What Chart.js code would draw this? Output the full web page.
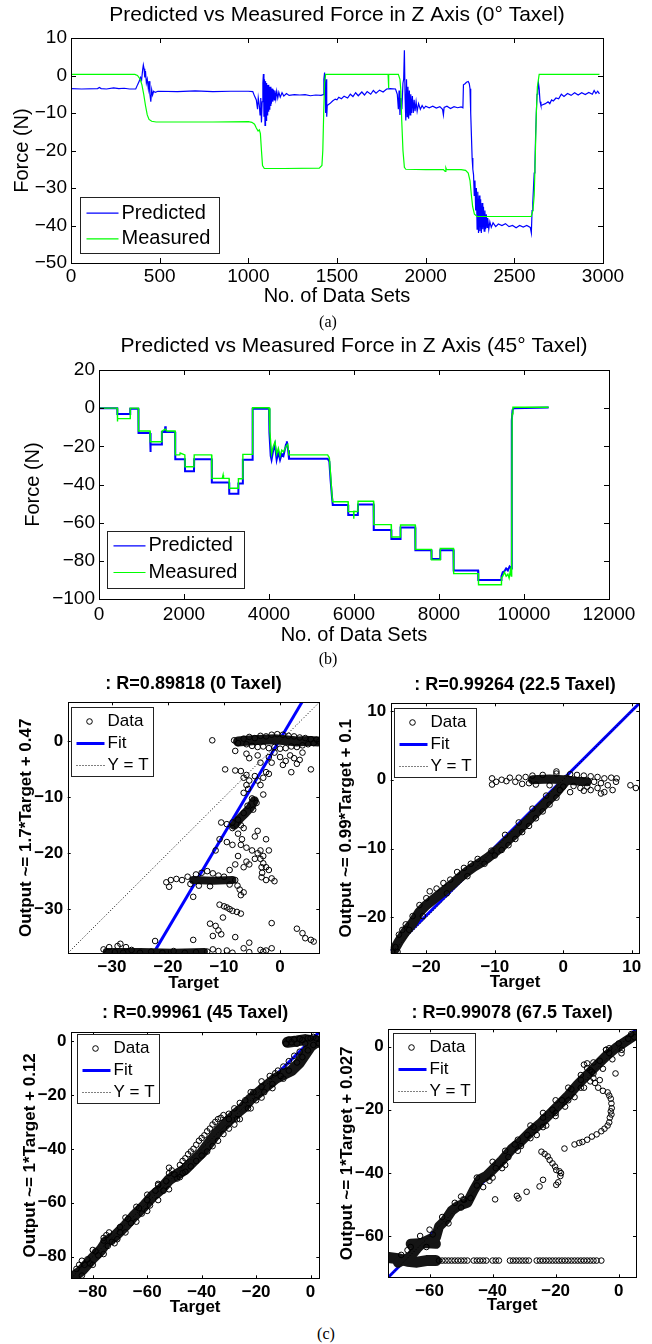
<!DOCTYPE html>
<html><head><meta charset="utf-8">
<script src="https://cdn.jsdelivr.net/npm/chart.js@4.4.1/dist/chart.umd.min.js"></script>
<style>
html,body{margin:0;padding:0;background:#fff;}
body{width:652px;height:1344px;position:relative;overflow:hidden;}
canvas{position:absolute;}
.cap{position:absolute;font-family:"Liberation Serif","Times New Roman",serif;font-size:16px;color:#000;transform:translate(-50%,-50%);white-space:nowrap;}
</style></head><body>
<canvas id="ca"></canvas><canvas id="cb"></canvas>
<canvas id="c1"></canvas><canvas id="c2"></canvas><canvas id="c3"></canvas><canvas id="c4"></canvas>
<div class="cap" style="left:328px;top:322px">(a)</div>
<div class="cap" style="left:328px;top:659px">(b)</div>
<div class="cap" style="left:326px;top:1334px">(c)</div>
<script>
// ---------------- DATA ----------------
// (a) 0° taxel: [No. of data set, Force (N)]
const aPredicted = [[0,-3.5],[60,-3.6],[150,-3.5],[160,-3.2],[170,-3.5],[200,-3.6],[240,-3.3],[270,-3.5],[300,-3.4],[330,-3.6],[365,-3.6],
[375,-2.5],[385,-1.5],[392,-0.5],[398,-1.2],[404,1.5],[408,2.8],[412,1.8],[416,-0.5],[420,1.2],[425,-2],[430,-1],[436,-3.5],[440,-1.5],[445,-5],[450,-7],[455,-3.8],[460,-5.2],[466,-4.2],[475,-4.5],[490,-4.2],
[600,-4.3],[700,-4.1],[800,-4.3],[900,-4.2],[1000,-4.2],[1025,-4.3],
[1035,-5.5],[1045,-6.5],[1052,-9],[1056,-6],[1062,-8],[1066,-10.5],[1070,-6],[1074,-12.5],[1078,-7],[1082,-2],[1085,0.4],[1088,-11],[1091,-1],[1094,-13.3],[1097,-1.5],[1100,-12],[1103,-2],[1106,-10.5],[1109,-2.5],[1112,-9.5],[1115,-2.5],[1118,-9],[1121,-3],[1124,-8],[1127,-3],[1130,-7.5],[1134,-3.5],[1138,-7],[1142,-3.8],[1146,-6.5],[1150,-4],[1155,-6.2],[1160,-4.2],[1166,-6],[1172,-4.5],[1180,-5.8],[1190,-4.6],[1200,-5.5],[1215,-4.8],[1230,-5.3],[1260,-5.1],[1290,-5.2],[1320,-5.1],[1350,-5.4],[1380,-5.2],[1410,-5.3],[1422,-5.1],
[1426,-1],[1430,0.8],[1433,-3],[1436,-10],[1439,-1],[1442,-11],[1445,-8],[1450,-7.8],[1460,-7.5],[1475,-6.8],[1490,-6.3],[1500,-6.5],[1510,-5.8],[1525,-6.2],[1540,-5.5],[1560,-6],[1575,-5],[1590,-5.6],[1605,-4.6],[1620,-5.4],[1640,-4.4],[1655,-5.2],[1670,-4.3],[1690,-5],[1705,-4],[1720,-4.7],[1740,-3.9],[1760,-4.4],[1780,-3.6],[1800,-3.5],[1830,-3.6],
[1840,-5],[1846,-9],[1850,-4],[1855,-10.5],[1860,-6],[1866,-9],[1872,-2],[1876,-1],[1880,6.7],[1884,-6],[1888,-12],[1892,-1],[1896,-11],[1900,-3],[1904,-11.5],[1908,-4],[1912,-10.5],[1916,-5],[1920,-10],[1925,-5.5],[1930,-10],[1935,-6.5],[1940,-9.5],[1946,-7],[1952,-9.5],[1960,-7.5],[1970,-9],[1980,-8],[1990,-8.8],[2000,-8.2],[2020,-8.6],[2040,-8.2],[2060,-8.7],[2080,-8.3],[2095,-9],[2100,-10.5],[2104,-8.5],[2120,-8.2],[2140,-8.8],[2160,-8.3],[2180,-8.6],[2200,-8.4],[2210,-8.6],
[2213,-2.5],[2222,-2.2],[2230,-1.8],[2240,-1.6],[2246,-2.2],[2250,-3.5],[2254,-10],[2258,-16],[2262,-22],[2266,-25],[2270,-26.5],[2274,-32],[2278,-28],[2282,-36],[2286,-30],[2290,-41],[2294,-31],[2298,-42],[2302,-32],[2306,-41.5],[2310,-33],[2314,-42],[2318,-34],[2322,-41],[2326,-35],[2330,-41.5],[2334,-36],[2338,-41],[2342,-37],[2346,-40.5],[2350,-38],[2356,-41],[2362,-39],[2370,-40.5],[2380,-39.3],[2395,-40.3],[2410,-39.6],[2430,-40],[2450,-39.5],[2470,-40.3],[2490,-40],[2510,-40.6],[2530,-40],[2550,-40.4],[2570,-40],[2590,-40.5],[2596,-42],
[2600,-36],[2604,-34],[2608,-30],[2612,-26],[2616,-24],[2620,-16],[2624,-10],[2628,-5],[2632,-4],[2636,-2],[2640,-3.5],[2645,-7],[2650,-8],[2660,-7.8],[2675,-7.5],[2690,-7],[2700,-7.5],[2710,-6.5],[2720,-6.8],[2735,-6],[2750,-6.2],[2765,-5],[2780,-5.6],[2800,-4.8],[2820,-5.3],[2840,-4.6],[2860,-5.2],[2880,-4.6],[2900,-5.1],[2920,-4.5],[2940,-5],[2950,-4],[2960,-4.8],[2970,-4.2],[2980,-4.9]];
const aMeasured = [[0,0.3],[360,0.3],[375,0],[390,-1],[400,-2.5],[410,-5],[420,-8],[430,-10.5],[440,-11.7],[455,-12.2],[480,-12.4],[600,-12.4],[800,-12.4],[1000,-12.3],[1020,-12.5],[1035,-13],[1045,-14],[1055,-14.8],[1062,-14.5],[1068,-15.5],[1074,-20],[1080,-24],[1090,-24.8],[1200,-24.8],[1400,-24.7],[1415,-24],[1420,-20],[1425,-10],[1430,-2],[1436,0.3],[1500,0.3],[1788,0.3],[1790,-3.4],[1793,0.3],[1846,0.3],[1855,-1],[1860,-4],[1865,-12],[1872,-20],[1880,-24.5],[1888,-25],[2000,-25.1],[2100,-25.1],[2110,-25.6],[2114,-24.6],[2118,-25.1],[2200,-25.1],[2225,-25.3],[2240,-26],[2250,-28],[2258,-32],[2265,-35],[2275,-37],[2290,-37.6],[2400,-37.6],[2500,-37.6],[2595,-37.6],[2605,-36],[2612,-32],[2618,-22],[2624,-10],[2630,-3],[2640,0.3],[2700,0.3],[2980,0.3]];
const aXTicks = [0,500,1000,1500,2000,2500,3000];
const aYTicks = [-50,-40,-30,-20,-10,0,10];

// (b) 45° taxel
const bPredicted = [[0,0],[430,0],[432,-3],[730,-3],[735,-0.3],[925,-0.3],[930,-13],[1200,-13],[1205,-19],[1215,-23],[1220,-19],[1475,-19],[1480,-12.5],[1550,-12.5],[1560,-9.5],[1570,-12.5],[1790,-12.5],[1795,-26.8],[2020,-26.8],[2025,-33],[2235,-33],[2240,-26.8],[2650,-26.8],[2655,-39],[3060,-39],[3065,-44.8],[3275,-44.8],[3280,-39.5],[3380,-39.5],[3385,-27],[3610,-27],[3615,-0.3],[4000,-0.3],[4010,-13],[4040,-25],[4060,-27],[4100,-22],[4140,-19],[4180,-27],[4220,-23],[4260,-27],[4300,-24],[4340,-25],[4400,-19],[4420,-17.4],[4450,-22],[4470,-26.5],[5380,-26.5],[5420,-28],[5450,-38],[5480,-46],[5500,-50.7],[5860,-50.7],[5865,-56],[6090,-56],[6095,-50.5],[6460,-50.5],[6465,-63.8],[6875,-63.8],[6880,-68.6],[7090,-68.6],[7095,-62.5],[7440,-62.5],[7445,-74.5],[7820,-74.5],[7825,-79],[8025,-79],[8030,-74.5],[8340,-74.5],[8345,-85],[8920,-85],[8925,-90],[9460,-90],[9470,-88],[9500,-86],[9540,-85.5],[9580,-84],[9620,-85],[9660,-83],[9700,-84],[9710,-70],[9715,-6.5],[9730,-1],[9760,0],[10580,0.3]];
const bMeasured = [[0,0],[430,0],[432,-7],[440,-5.5],[730,-5.5],[735,0],[925,0],[930,-12],[1200,-12],[1205,-17.6],[1475,-17.6],[1480,-12],[1520,-11.5],[1560,-11],[1600,-12],[1790,-12],[1795,-24.5],[1900,-24.5],[1910,-23.5],[2020,-24.5],[2025,-30.7],[2235,-30.7],[2240,-24.5],[2650,-24.5],[2655,-36.8],[2900,-36.8],[2920,-35],[2930,-36.8],[3060,-36.8],[3065,-42],[3275,-42],[3280,-37],[3380,-37],[3385,-24.2],[3610,-24.2],[3615,0.2],[4000,0.2],[4020,-12],[4060,-24],[4100,-20],[4140,-17.6],[4180,-24],[4220,-21],[4260,-25],[4300,-22],[4340,-23],[4400,-20],[4440,-19],[4470,-24.5],[5380,-24.5],[5420,-26],[5450,-35],[5480,-45],[5500,-49],[5860,-49],[5865,-54.2],[5990,-54.2],[5995,-58],[6000,-54],[6090,-54.2],[6095,-48.8],[6460,-48.8],[6465,-61],[6875,-61],[6880,-67.5],[7090,-67.5],[7095,-61.2],[7440,-61.2],[7445,-74],[7820,-74],[7825,-79.5],[8025,-79.5],[8030,-73.5],[8340,-73.5],[8345,-86.7],[8925,-86.7],[8930,-92.5],[9460,-92.5],[9470,-89],[9500,-88],[9540,-86],[9580,-88],[9620,-87],[9650,-89],[9680,-85],[9700,-88],[9710,-80],[9720,-3],[9740,0.5],[10580,0.5]];
const bXTicks = [0,2000,4000,6000,8000,10000,12000];
const bYTicks = [-100,-80,-60,-40,-20,0,20];

// (c) regressions: [Target, Output]
const tlData = [[-12.1,0.2],[-8.2,0.2],[-7.5,-0.3],[-6.5,0.5],[-6,-0.5],[-5.5,0.8],[-5,-0.8],[-4.5,0.6],[-4,-1],[-3.5,1],[-3,-0.9],[-2.5,0.9],[-2,-1.2],[-1.5,1.2],[-1,-1],[-0.5,1.3],[0,-1.3],[0.5,1.2],[1,-1.2],[1.5,1],[2,-0.9],[2.5,0.9],[3,-1],[3.5,0.7],[4,-0.7],[4.5,0.6],[5,-0.5],[5.5,0.4],[6,-0.3],[6.5,0.3],[7,0],
[-8,-1.7],[-6,-2.2],[-5.5,-3],[-4,-2.5],[-3.5,-3.8],[-2,-2.8],[-1.5,-3.8],[-1,-2],[0,-2.8],[0.5,-4.2],[1,-3.5],[1.8,-2.5],[2.5,-3],[3,-4],[3.5,-3.3],[4,-2],[5.5,-5],[2,-5.5],
[-9.8,-5],[-8,-5.2],[-7,-5.3],[-6.5,-6.5],[-6,-6],[-5.5,-7],[-6,-7.8],[-5.7,-8.5],[-6.5,-9.2],[-4,-7],[-3.5,-7.8],[-3,-6.5],[-2.5,-5.5],[-2,-5.8],[-4.5,-6.2],[-3,-9.5],
[-5,-10.2],[-4.2,-11],[-4.8,-12.2],[-5.8,-11.5],[-6.5,-12.8],[-7.5,-14],[-8.5,-14.5],[-9.5,-14.8],[-8.5,-15.5],[-7,-15],[-6.5,-15.5],[-7.5,-16.5],[-6.8,-17.5],[-10.8,-17.5],[-11.5,-19.5],[-10.5,-14.5],
[-9.5,-18],[-8.5,-18.5],[-7,-18.5],[-6,-19],[-5,-19.5],[-4,-20],[-3.5,-21],[-3,-21.8],[-2.5,-22.5],[-2,-23],[-3.5,-19.5],[-3,-20.5],[-4.5,-21],[-5.5,-22],[-6.5,-22.5],[-6,-21.5],[-7.5,-20.5],[-8,-22],[-9,-23],[-3.3,-22.5],[-3.2,-23.5],[-3.3,-24.3],[-2.5,-24.8],[-1.5,-24.5],[-1,-25],[-4,-16],[-4.5,-17],[-2.5,-17.5],[-2,-19.5],
[-20.3,-25.2],[-19.8,-26],[-19.5,-24.8],[-18.5,-24.6],[-17.5,-24.8],[-16.5,-24.2],[-16,-25.5],[-15,-23.8],[-14,-23.5],[-13,-23.2],[-12,-23.6],[-11,-24],[-10,-24.2],[-9,-25.6],[-8,-24.8],[-7.6,-25.8],[-7.2,-26.5],[-6.5,-27],[-7,-27.5],[-14.5,-25.8],[-12.5,-25.9],[-15.5,-27.8],
[-10.8,-29.2],[-10,-29.5],[-9.5,-29.7],[-9,-30],[-8.5,-30.3],[-7.7,-30.5],[-7,-30.8],[-10.2,-31.5],[-12.5,-32.6],[-11.5,-33],[-11,-33.8],[-10.5,-34.5],[-12,-34.8],[-8,-35],[-5.5,-36],[-15.5,-35.5],[-22.3,-35.7],[-28.5,-36.2],[-29,-36.6],[-27.5,-36.8],[-1.5,-32.5],[3,-33.5],[4,-34.3],[4.5,-35.2],[5.5,-35.5],[6,-35.8],[-3.5,-37.3],[-2.5,-37.4],[-1.5,-37],
[-31.5,-37.2],[-30.5,-36.8],[-29.5,-37.7],[-28,-37.8],[-26.5,-37.3],[-25,-37.8],[-23,-37.6],[-21,-37.8],[-19,-37.5],[-17,-37.8],[-15,-37.7],[-13,-37.6],[-12,-37.2],[-11,-37.5],[-9.5,-37.4],[-8.5,-37.8],[-6.5,-37],[-5.5,-37.7],[-3,-37.6]];
const tlDenseTop = [[-7.5,0],[-5,0.2],[-3,0.3],[-1,0.4],[1,0.2],[3,0],[5,0.1],[6.8,0]];
const tlDenseMid = [[-4.6,-10.6],[-5.3,-11.8],[-6.2,-12.8],[-7.2,-13.8],[-8.2,-15]];
const tlDense25 = [[-15.5,-24.8],[-12,-24.9],[-8.5,-24.8]];
const tlDenseBot = [[-31,-37.6],[-25,-37.6],[-19,-37.7],[-13.5,-37.6]];
const tlFit = [[-22.6,-37.9],[3.9,7]];
const tlYT = [[-37.9,-37.9],[7,7]];
const tlTicks = [-30,-20,-10,0];

const trData = [[-10.4,-0.7],[-10.4,0.2],[-9.8,-0.3],[-9,0],[-8.3,-0.2],[-7.8,0.3],[-7,-0.3],[-6.5,0.3],[-6,-0.6],[-5.5,0.4],[-5,-0.5],[-4.5,0.6],[-4,-0.7],[-3,0.7],[-2,-0.8],[-1,0.9],[-1,1.2],[0,-1],[1,0.8],[1.5,-0.9],[2,0.7],[2.5,-1.2],[3,0.6],[3.5,-1],[4,0.5],[4,-1.5],[4.5,-0.3],[5,0.4],[5,-1.2],[5.5,-0.5],[6,0.2],[6,-1.8],[6.5,-0.8],[7,0.3],[7.2,-1.5],[7.8,0.2],[7.7,-0.3],[5.5,-2],[1,-1.8],[9.8,-0.8],[10.6,-1.2],[3,-1.6],
[-24.5,-24.3],[-24,-22.5],[-23.5,-21.8],[-23,-21],[-22,-19.8],[-21,-18.2],[-20,-17.2],[-19.5,-16.2],[-18.5,-15.8],[-17.5,-15],[-16.5,-14.5],[-15.5,-13.4],[-14.5,-12.8],[-13.5,-12.2],[-12.5,-11.5],[-11.5,-12.2],[-10.5,-10.3],[-10,-11],[-9,-10.2],[-8,-9.5],[-7,-8.6],[-6,-7.6],[-5,-6.7],[-4,-5.6],[-3,-4.6],[-2,-3.6],[-1,-2.6],[-0.5,-1.5],[-8.5,-8],[-6.5,-6.2],[-4.5,-4.2],[-2.5,-2.3],[-20.5,-19.8],[-22.5,-21.8],[-17,-16.5],[-14,-14],[-25,-25],[-24.2,-25]];
const trDenseMain = [[-24.8,-24.9],[-24,-23.5],[-23,-22],[-22,-20.8],[-21,-19.2],[-20,-18.2],[-19,-17.4],[-18,-16.6],[-17,-15.8],[-16,-15],[-15,-14.1],[-14,-13.3],[-13,-12.6],[-12,-12],[-11,-11.3],[-10,-10.5],[-9,-9.7],[-8,-8.7],[-7,-7.8],[-6,-6.8],[-5,-5.8],[-4,-4.8],[-3,-3.8],[-2,-2.8],[-1,-1.8],[0,-0.6],[0.5,0]];
const trDenseTop = [[-4.5,0],[-2,0.1],[0,0],[2,-0.2],[3.5,-0.3]];
const trFit = [[-25.2,-24.85],[11.1,11.09]];
const trYT = [[-25.2,-25.2],[11.1,11.1]];
const trTicks = [-20,-10,0,10];

const blData = [[-48,-46],[-47,-44.5],[-46,-43.5],[-45,-42],[-44,-41],[-43,-40],[-42,-38.5],[-41,-37],[-40,-36],[-39,-35],[-38,-33.5],[-37,-32.5],[-36,-31],[-35,-30],[-34,-29],[-33,-28.5],[-32,-27.5],
[-46,-48.5],[-44,-46.5],[-42,-44.5],[-40,-42.5],[-38,-41],[-36,-39],[-34,-37],[-32,-34.5],[-30,-32.5],
[-75,-72],[-74,-71],[-73,-74.5],[-72,-75],[-71,-73.5],[-70,-71],[-76,-74],[-74.5,-76],
[-50,-49.5],[-49,-51],[-48,-50.5],[-47,-49],[-51,-48],[-52,-47],[-56,-53],
[-86,-84.5],[-85,-83],[-83,-83],[-82,-81],[-81,-82.5],[-79,-78],[-78,-79.5],[-70,-69],[-67,-66],[-66,-67.5],[-63,-62],[-62,-64],[-60,-59],[-59,-61],[-57,-55.5],[-54,-55.5],[-53,-52],[-30,-29],[-28,-25],[-27,-29],[-24,-22],[-23,-25],[-21,-19],[-20,-22],[-18,-17],[-17,-19],[-15,-13],[-14,-16],[-12,-11],[-10,-9.5],[-8,-7.5],[-6,-5.5],[-4,-4],[-11,-13],[-8,-11],[-5,-8],[-3,-6],[-2,-1],[-1,-3.5],[0,1],[1,-1.5],[2,1],[3,-0.8],[-9,-1],[-8,0.5],[-7,-0.5],[-6,0.5],[-5,-1],[-4,0.8],[-3,0.3],[-1,1],[1,1.5],[-13,-12],
[-84,-81.5],[-80,-77.5],[-76,-73],[-68,-65.5],[-64,-61.5],[-60,-57],[-56,-53.5],[-52,-49],[-30,-27],[-26,-23],[-22,-19],[-18,-15],[-84,-87],[-80,-83],[-76,-79],[-68,-71],[-64,-67],[-60,-63],[-56,-59],[-52,-55],[-28,-31],[-26,-29],[-22,-25],[-18,-21],[-14,-17.5],[-10,-14]];
const blDenseMain = [[-86.5,-87],[-84,-85],[-80,-80.5],[-77,-77.5],[-75,-74.5],[-72,-72.5],[-68,-68.5],[-65,-65],[-61,-61],[-58,-57.5],[-55,-55],[-52,-51.5],[-49,-49.5],[-46,-47.5],[-43,-44.5],[-40,-41.5],[-37,-37.5],[-34,-33.5],[-31,-30.5],[-28,-27.5],[-25,-25],[-22,-21.5],[-19,-19],[-16,-16.5],[-13,-14],[-10,-12.5],[-7,-11],[-4,-8],[-2,-5],[0,-2],[2,-0.5],[3,0]];
const blDenseTop = [[-8.5,-0.5],[-5,0],[-2,0.5],[1,0],[3,-0.5]];
const blFit = [[-88,-87.88],[3.2,3.32]];
const blYT = [[-88,-88],[3.2,3.2]];
const blTicks = [-80,-60,-40,-20,0];

const brData = [[-69,-66],[-67,-64.5],[-63,-60],[-61,-63.5],[-59,-59.5],[-56,-54],[-54,-56],[-52,-49.5],[-50,-51],[-49,-48.5],[-47,-48],[-45,-44],[-43,-44.5],[-41,-42.5],[-39,-38.5],[-37,-38.5],[-35,-35],[-33,-31],[-31,-31.5],[-29,-28],[-27,-25.5],[-26,-28],[-24,-22.5],[-23,-25],[-21,-20],[-20,-22],[-18,-17],[-17,-19],[-15,-13.5],[-14,-16],[-12,-10.5],[-11,-13],[-9,-7.5],[-8,-10],[-6,-4.5],[-5,-7],[-3,-2],[-2,-4],[0,1],[1,-1],[3,2.5],[4,4],[5,3],[-1,-8.5],[-11,-5.7],[-10,-6.8],[0.9,-2.1],[-4,-1],[-3,-0.5],
[-66,-63.5],[-60,-58],[-50,-47.5],[-45,-41.5],[-40,-36.5],[-36,-33],[-32,-29.5],[-28,-25],[-24,-21],[-20,-17],[-16,-13],[-12,-9],[-8,-5],[-4,-1],[-40,-41.5],[-36,-37.5],[-32,-33],[-28,-29],[-24,-25.5],[-20,-21],[-16,-17],[-12,-13],[-8,-8.5],
[-10,-5.3],[-8.5,-8],[-9,-11],[-7.5,-11.5],[-6,-10.6],[-6.5,-13],[-5,-14],[-3.5,-14.5],[-3,-15.5],[-2.5,-16.5],[-2.3,-18],[-2.2,-19.5],[-2.5,-20.5],[-2.3,-21.5],[-2.8,-22.5],[-3,-24],[-3.5,-25],[-4.5,-26],[-5.5,-26.8],[-7,-27.8],[-8.5,-28.5],[-10,-29.5],[-11.5,-30.2],[-12.5,-30.5],[-14,-31],[-17.2,-32.3],
[-24.5,-33.3],[-23.5,-34],[-22.5,-34.8],[-21.9,-35.9],[-21,-37],[-20.2,-38],[-19.8,-39.1],[-18.8,-39.5],[-18.3,-40.1],[-18.5,-41],[-19.2,-43],[-19.8,-43.8],[-24,-42.2],[-25.1,-44.3],[-29.2,-46],[-31.8,-48.1],[-32.3,-47.3],[-39.2,-48.4],[-49.3,-48.4],
[-57,-67.8],[-56,-67.8],[-55,-67.8],[-54,-67.8],[-53,-67.8],[-52,-67.8],[-51,-67.8],[-50,-67.8],[-49,-67.8],[-48,-67.8],[-46,-67.8],[-45,-67.8],[-44,-67.8],[-43,-67.8],[-42,-67.8],[-40,-67.8],[-39,-67.8],[-38,-67.8],[-34.5,-67.8],[-33.5,-67.8],[-32.5,-67.8],[-31.5,-67.8],[-30.5,-67.8],[-29.5,-67.8],[-28.5,-67.8],[-26,-67.8],[-25,-67.8],[-24,-67.8],[-23,-67.8],[-22,-67.8],[-21,-67.8],[-20,-67.8],[-19,-67.8],[-18,-67.8],[-17,-67.8],[-16,-67.8],[-15,-67.8],[-14,-67.8],[-13,-67.8],[-12,-67.8],[-11,-67.8],[-10,-67.8],[-9,-67.8],[-8,-67.8],[-7,-67.8],[-5.5,-67.8]];
const brDenseMain = [[-70,-68.5],[-68,-67.5],[-66,-66.5],[-64,-64],[-62,-62],[-60,-61],[-58,-60.5],[-57,-57],[-55,-55],[-53,-52],[-51,-50.5],[-48,-49.5],[-46,-45.5],[-44,-42],[-42,-41],[-40,-39],[-37,-36],[-34,-32.5],[-31,-30],[-28,-27],[-25,-24.5],[-22,-21.5],[-19,-18.5],[-16,-15.5],[-13,-12],[-10,-9],[-7,-6],[-4,-3],[-1,-0.5],[2,1.5],[5,3.5]];
const brDenseBot = [[-73,-66.8],[-70,-67.2],[-67,-68],[-64,-68.3],[-61,-67.8],[-58,-67.8]];
const brDenseLedge = [[-66,-62.5],[-62,-62.2],[-58,-62.5]];
const brFit = [[-73.1,-73.07],[5.5,5.53]];
const brYT = [[-73.1,-73.1],[5.5,5.5]];
const brTicks = [-60,-40,-20,0];

// ---------------- RENDERING ----------------
const FONT = '"Liberation Sans", Arial, Helvetica, sans-serif';
Chart.defaults.font.family = FONT;
const xy = arr => arr.map(p => ({x: p[0], y: p[1]}));

const framePlugin = {
  id: 'frame',
  afterDatasetsDraw(chart, args, o) {
    const {ctx, chartArea: a} = chart;
    const r = v => Math.round(v) + 0.5;
    ctx.save();
    ctx.strokeStyle = '#000'; ctx.lineWidth = 1;
    ctx.beginPath();
    chart.scales.x.ticks.forEach(t => {
      const p = r(chart.scales.x.getPixelForValue(t.value));
      ctx.moveTo(p, a.bottom); ctx.lineTo(p, a.bottom - o.tick);
      ctx.moveTo(p, a.top); ctx.lineTo(p, a.top + o.tick);
    });
    chart.scales.y.ticks.forEach(t => {
      const p = r(chart.scales.y.getPixelForValue(t.value));
      ctx.moveTo(a.left, p); ctx.lineTo(a.left + o.tick, p);
      ctx.moveTo(a.right, p); ctx.lineTo(a.right - o.tick, p);
    });
    ctx.stroke();
    ctx.strokeRect(r(a.left), r(a.top), Math.round(a.right) - Math.round(a.left), Math.round(a.bottom) - Math.round(a.top));
    ctx.restore();
  }
};
const legendPlugin = {
  id: 'boxLegend',
  afterDraw(chart, args, o) {
    if (!o || !o.items) return;
    const {ctx, chartArea: a} = chart;
    const x0 = Math.round(a.left + o.dx) + 0.5, y0 = Math.round(a.top + o.dy) + 0.5;
    ctx.save();
    ctx.fillStyle = '#fff'; ctx.fillRect(x0, y0, o.w, o.h);
    ctx.strokeStyle = '#222'; ctx.lineWidth = 1; ctx.strokeRect(x0, y0, Math.round(o.w), Math.round(o.h));
    ctx.font = o.font; ctx.textBaseline = 'middle'; ctx.textAlign = 'left';
    o.items.forEach((it, i) => {
      const ds = chart.data.datasets[it];
      const y = y0 + o.rows[i];
      if (ds.showLine) {
        ctx.beginPath(); ctx.setLineDash(ds.borderDash || []);
        ctx.strokeStyle = ds.borderColor; ctx.lineWidth = o.lw || ds.borderWidth;
        ctx.moveTo(x0 + o.l0, y); ctx.lineTo(x0 + o.l1, y); ctx.stroke(); ctx.setLineDash([]);
      } else {
        ctx.beginPath(); ctx.arc(x0 + o.mark, y, ds.pointRadius, 0, 2 * Math.PI);
        ctx.strokeStyle = ds.pointBorderColor; ctx.lineWidth = ds.pointBorderWidth; ctx.stroke();
      }
      ctx.fillStyle = '#000'; ctx.fillText(ds.label, x0 + o.tx, y);
    });
    ctx.restore();
  }
};

function mk(id, s) {
  const cv = document.getElementById(id);
  cv.width = s.cw; cv.height = s.ch;
  Object.assign(cv.style, {left: s.cx + 'px', top: s.cy + 'px', width: s.cw + 'px', height: s.ch + 'px'});
  const tLH = s.titleFont.size * 1.2, aLH = s.axisFont.size * 1.2;
  const padTop = s.titleCy - s.cy - tLH / 2;
  const padBot = s.T - s.cy - padTop - tLH;
  const yW = s.L - s.cx, xH = s.cy + s.ch - s.B;
  const zero = sc => { sc.paddingLeft = sc.paddingRight = sc.paddingTop = sc.paddingBottom = 0; };
  const cb = v => String(v).replace('-', '\u2212');
  const common = {type: 'linear', grid: {display: false, drawTicks: false}, border: {display: false}};
  return new Chart(cv, {
    type: 'scatter',
    data: {datasets: s.datasets},
    options: {
      responsive: false, animation: false, devicePixelRatio: 1,
      layout: {padding: {left: 0, top: 0, bottom: 0, right: s.cx + s.cw - s.R}, autoPadding: false},
      elements: {line: {tension: 0}},
      plugins: {
        legend: {display: false}, tooltip: {enabled: false},
        title: {display: true, text: s.title, color: '#000', fullSize: false, font: Object.assign({lineHeight: 1.2}, s.titleFont), padding: {top: padTop, bottom: padBot}},
        frame: {tick: s.tickLen},
        boxLegend: s.legend
      },
      scales: {
        x: Object.assign({}, common, {position: 'bottom', min: s.xMin, max: s.xMax,
          ticks: {color: '#000', font: s.tickFont, padding: s.xTickPad, maxRotation: 0, autoSkip: false, callback: cb},
          afterBuildTicks: sc => { sc.ticks = s.xTicks.map(v => ({value: v})); },
          afterFit: sc => { sc.height = xH; zero(sc); },
          title: {display: true, text: s.xTitle, color: '#000', font: Object.assign({lineHeight: 1.2}, s.axisFont), padding: {top: 0, bottom: s.cy + s.ch - s.xTitleCy - aLH / 2}}}),
        y: Object.assign({}, common, {position: 'left', min: s.yMin, max: s.yMax,
          ticks: {color: '#000', font: s.tickFont, padding: s.yTickPad, autoSkip: false, callback: cb},
          afterBuildTicks: sc => { sc.ticks = s.yTicks.map(v => ({value: v})); },
          afterFit: sc => { sc.width = yW; zero(sc); },
          title: {display: true, text: s.yTitle, color: '#000', font: Object.assign({lineHeight: 1.2}, s.axisFont), padding: {top: s.yTitleCx - s.cx - aLH / 2, bottom: 0}}})
      }
    },
    plugins: [framePlugin, legendPlugin]
  });
}

const lineDs = (label, arr, color, w, order) => ({label, data: xy(arr), showLine: true, borderColor: color, backgroundColor: color, borderWidth: w, pointRadius: 0, order});
const bigTitle = {size: 21, weight: 'normal'};
const bigFont = {size: 20, weight: 'normal'};
const tsFont = {size: 19, weight: 'normal'};

mk('ca', {cx: 0, cy: 0, cw: 652, ch: 312, L: 71, T: 38, R: 603, B: 263,
  title: 'Predicted vs Measured Force in Z Axis (0° Taxel)', titleCy: 15, titleFont: bigTitle,
  xTitle: 'No. of Data Sets', xTitleCy: 296, yTitle: 'Force (N)', yTitleCx: 22, axisFont: bigFont,
  tickFont: tsFont, xTickPad: 2.5, yTickPad: 4, tickLen: 5,
  xMin: 0, xMax: 3000, yMin: -50, yMax: 10, xTicks: aXTicks, yTicks: aYTicks,
  datasets: [lineDs('Predicted', aPredicted, '#0000ff', 1.2, 1), lineDs('Measured', aMeasured, '#00ff00', 1.2, 0)],
  legend: {items: [0, 1], dx: 9, dy: 159, w: 139, h: 56, rows: [15.7, 41.3], l0: 6, l1: 38, tx: 41, lw: 1.2, font: '20px ' + FONT}
});
mk('cb', {cx: 0, cy: 328, cw: 652, ch: 322, L: 99, T: 370, R: 609, B: 599,
  title: 'Predicted vs Measured Force in Z Axis (45° Taxel)', titleCy: 346.5, titleFont: bigTitle,
  xTitle: 'No. of Data Sets', xTitleCy: 635, yTitle: 'Force (N)', yTitleCx: 33, axisFont: bigFont,
  tickFont: tsFont, xTickPad: 4.5, yTickPad: 4, tickLen: 5,
  xMin: 0, xMax: 12000, yMin: -100, yMax: 20, xTicks: bXTicks, yTicks: bYTicks,
  datasets: [lineDs('Predicted', bPredicted, '#0000ff', 2, 1), lineDs('Measured', bMeasured, '#00ff00', 1.4, 0)],
  legend: {items: [0, 1], dx: 8, dy: 161, w: 137, h: 57, rows: [14.3, 41], l0: 6, l1: 38, tx: 41, lw: 1.2, font: '20px ' + FONT}
});

const sTitle = {size: 18, weight: 'bold'};
const sAxis = {size: 17, weight: 'bold'};
const sTick = {size: 17, weight: 'bold'};
function regDatasets(points, dense, fit, yt) {
  const ds = [
    {label: 'Data', data: xy(points), showLine: false, pointStyle: 'circle', pointRadius: 2.8, pointBorderWidth: 1, pointBorderColor: '#000', pointBackgroundColor: 'rgba(0,0,0,0)', order: 1},
    {label: 'Fit', data: xy(fit), showLine: true, borderColor: '#0000ff', borderWidth: 3, pointRadius: 0, order: 3},
    {label: 'Y = T', data: xy(yt), showLine: true, borderColor: '#000', borderWidth: 1, borderDash: [1, 2], pointRadius: 0, order: 0}
  ];
  dense.forEach(d => ds.push({label: 'Data', data: xy(d[0]), showLine: true, borderColor: '#151515', borderWidth: d[1], borderCapStyle: 'round', borderJoinStyle: 'round', pointRadius: 0, order: 2}));
  return ds;
}
const sLegend = (dx, dy) => ({items: [0, 1, 2], dx, dy, w: 82, h: 69, rows: [14, 36, 58], mark: 18, l0: 5, l1: 33, tx: 36, font: '17px ' + FONT});

mk('c1', {cx: 0, cy: 670, cw: 326, ch: 330, L: 67.7, T: 702.3, R: 319.3, B: 953.3,
  title: ': R=0.89818 (0 Taxel)', titleCy: 684, titleFont: sTitle,
  xTitle: 'Target', xTitleCy: 983, yTitle: 'Output ~= 1.7*Target + 0.47', yTitleCx: 26, axisFont: sAxis,
  tickFont: sTick, xTickPad: 3.5, yTickPad: 4.5, tickLen: 3,
  xMin: -37.9, xMax: 7, yMin: -37.9, yMax: 7, xTicks: tlTicks, yTicks: tlTicks,
  datasets: regDatasets(tlData, [[tlDenseTop, 10], [tlDenseMid, 9], [tlDense25, 8], [tlDenseBot, 7]], tlFit, tlYT),
  legend: sLegend(3.3, 5)
});
mk('c2', {cx: 326, cy: 670, cw: 326, ch: 330, L: 390.7, T: 703.3, R: 639.3, B: 953.3,
  title: ': R=0.99264 (22.5 Taxel)', titleCy: 685, titleFont: sTitle,
  xTitle: 'Target', xTitleCy: 982, yTitle: 'Output ~= 0.99*Target + 0.1', yTitleCx: 346.7, axisFont: sAxis,
  tickFont: sTick, xTickPad: 3.5, yTickPad: 4.5, tickLen: 3,
  xMin: -25.2, xMax: 11.1, yMin: -25.2, yMax: 11.1, xTicks: trTicks, yTicks: trTicks,
  datasets: regDatasets(trData, [[trDenseMain, 10], [trDenseTop, 9]], trFit, trYT),
  legend: sLegend(3.3, 5)
});
mk('c3', {cx: 0, cy: 1000, cw: 326, ch: 325, L: 71, T: 1032.3, R: 319.3, B: 1278.3,
  title: ': R=0.99961 (45 Taxel)', titleCy: 1013.3, titleFont: sTitle,
  xTitle: 'Target', xTitleCy: 1307, yTitle: 'Output ~= 1*Target + 0.12', yTitleCx: 30.8, axisFont: sAxis,
  tickFont: sTick, xTickPad: 3.5, yTickPad: 4.5, tickLen: 3,
  xMin: -88, xMax: 3.2, yMin: -88, yMax: 3.2, xTicks: blTicks, yTicks: blTicks,
  datasets: regDatasets(blData, [[blDenseMain, 11], [blDenseTop, 11]], blFit, blYT),
  legend: sLegend(5.7, 2)
});
mk('c4', {cx: 326, cy: 1000, cw: 326, ch: 325, L: 388.3, T: 1029.3, R: 636, B: 1277.3,
  title: ': R=0.99078 (67.5 Taxel)', titleCy: 1013.3, titleFont: sTitle,
  xTitle: 'Target', xTitleCy: 1305, yTitle: 'Output ~= 1*Target + 0.027', yTitleCx: 347.5, axisFont: sAxis,
  tickFont: sTick, xTickPad: 3.5, yTickPad: 4.5, tickLen: 3,
  xMin: -73.1, xMax: 5.5, yMin: -73.1, yMax: 5.5, xTicks: brTicks, yTicks: brTicks,
  datasets: regDatasets(brData, [[brDenseMain, 10], [brDenseBot, 11], [brDenseLedge, 10]], brFit, brYT),
  legend: sLegend(4.4, 3.4)
});
</script>
</body></html>
